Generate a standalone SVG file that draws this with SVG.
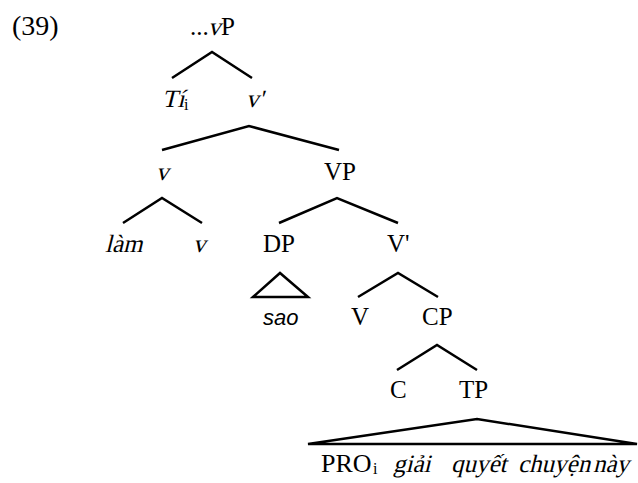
<svg xmlns="http://www.w3.org/2000/svg" width="638" height="483" viewBox="0 0 638 483">
<style>
.t{font-family:'Liberation Serif',serif;font-size:25px;font-style:normal;fill:#000}
.sans{font-family:'Liberation Sans',sans-serif;font-style:italic;font-size:22px;fill:#000}
.sub{font-family:'Liberation Serif',serif;font-size:16px;font-style:normal;fill:#000}
.edge{fill:none;stroke:#000;stroke-width:2.5;stroke-linejoin:miter}
</style>
<rect width="638" height="483" fill="#fff"/>
<text id="ex" class="t" x="12" y="35" style="font-size:28px">(39)</text>
<g id="connectors">
<polyline class="edge" points="172,78 212,52 252,78"/>
<polyline class="edge" points="162,150 249,126 339,150"/>
<polyline class="edge" points="123,223 162,198 202,223"/>
<polyline class="edge" points="279,223 337,198 398,223"/>
<polygon class="edge" points="253,297 280,273 308,297"/>
<polyline class="edge" points="358,297 398,273 438,297"/>
<polyline class="edge" points="397,370 437,345 477,370"/>
<polygon class="edge" points="308,444 477,419 637,444"/>
</g>
<g id="n-vP"><text class="t" x="190" y="35">...</text><text class="t" transform="translate(208,35) skewX(-14)">v</text><text class="t" x="221" y="35">P</text></g>
<g id="n-Ti"><text class="t" transform="translate(162,107) skewX(-14)">Tí</text><text class="sub" x="184" y="110">i</text></g>
<g id="n-vbar"><text class="t" transform="translate(246,107) skewX(-14)">v'</text></g>
<g id="n-v"><text class="t" transform="translate(156,180) skewX(-14)">v</text></g>
<g id="n-VP"><text class="t" x="324" y="180">VP</text></g>
<g id="n-lam"><text class="t" transform="translate(105,252) skewX(-14)">làm</text></g>
<g id="n-v2"><text class="t" transform="translate(193,252) skewX(-14)">v</text></g>
<g id="n-DP"><text class="t" x="263" y="252">DP</text></g>
<g id="n-Vbar"><text class="t" x="387" y="252">V'</text></g>
<g id="n-sao"><text class="sans" x="263" y="325">sao</text></g>
<g id="n-V"><text class="t" x="351" y="325">V</text></g>
<g id="n-CP"><text class="t" x="422" y="325">CP</text></g>
<g id="n-C"><text class="t" x="390" y="398">C</text></g>
<g id="n-TP"><text class="t" x="459" y="398">TP</text></g>
<g id="n-PRO"><text class="t" x="321" y="472" style="font-size:26px">PRO</text><text class="sub" x="373" y="474">i</text><text class="t" transform="translate(393,472) skewX(-14)">giải</text><text class="t" transform="translate(451,472) skewX(-14)">quyết</text><text class="t" transform="translate(518,472) skewX(-14)">chuyện</text><text class="t" transform="translate(593,472) skewX(-14)">này</text></g>
</svg>
